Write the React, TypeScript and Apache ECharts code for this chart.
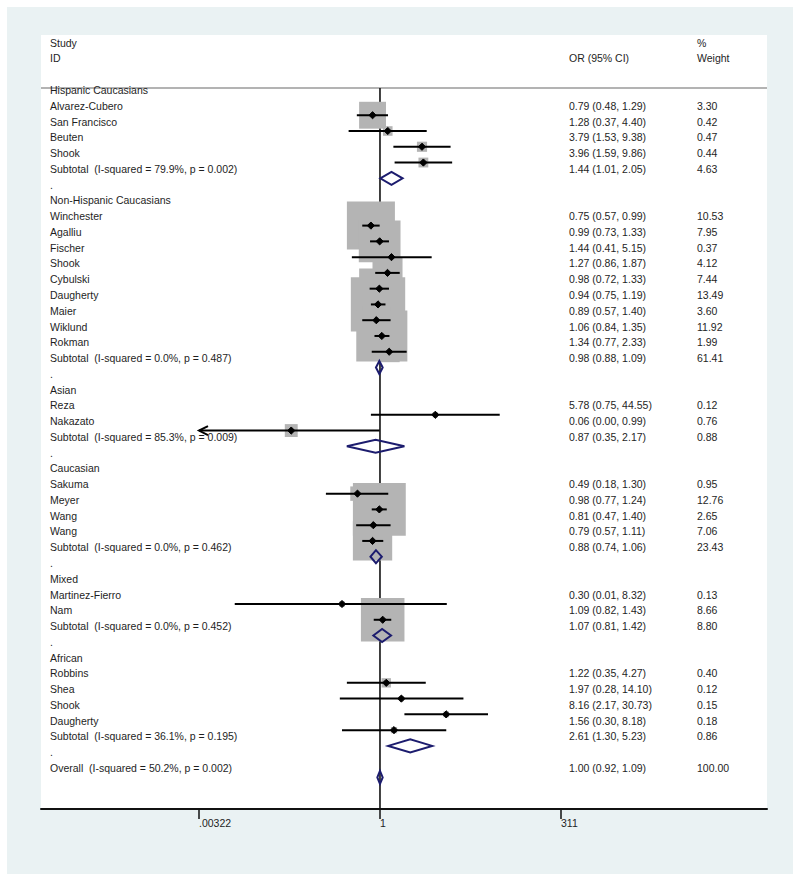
import React, { useEffect, useRef } from "react";
import * as echarts from "echarts";

// ---------- data ----------
const groupNames = [
  "Hispanic Caucasians",
  "Non-Hispanic Caucasians",
  "Asian",
  "Caucasian",
  "Mixed",
  "African",
];
const groupI2 = ["79.9%", "0.0%", "85.3%", "0.0%", "0.0%", "36.1%"];
const groupP = ["0.002", "0.487", "0.009", "0.462", "0.452", "0.195"];
const subOR = [1.44, 0.98, 0.87, 0.88, 1.07, 2.61];
const subLo = [1.01, 0.88, 0.35, 0.74, 0.81, 1.3];
const subHi = [2.05, 1.09, 2.17, 1.06, 1.42, 5.23];
const subWeight = [4.63, 61.41, 0.88, 23.43, 8.8, 0.86];

const studyNames = [
  "Alvarez-Cubero", "San Francisco", "Beuten", "Shook",
  "Winchester", "Agalliu", "Fischer", "Shook", "Cybulski", "Daugherty", "Maier", "Wiklund", "Rokman",
  "Reza", "Nakazato",
  "Sakuma", "Meyer", "Wang", "Wang",
  "Martinez-Fierro", "Nam",
  "Robbins", "Shea", "Shook", "Daugherty",
];
const studyGroup = [0, 0, 0, 0, 1, 1, 1, 1, 1, 1, 1, 1, 1, 2, 2, 3, 3, 3, 3, 4, 4, 5, 5, 5, 5];
const studyOR = [0.79, 1.28, 3.79, 3.96, 0.75, 0.99, 1.44, 1.27, 0.98, 0.94, 0.89, 1.06, 1.34, 5.78, 0.06, 0.49, 0.98, 0.81, 0.79, 0.3, 1.09, 1.22, 1.97, 8.16, 1.56];
const studyLo = [0.48, 0.37, 1.53, 1.59, 0.57, 0.73, 0.41, 0.86, 0.72, 0.75, 0.57, 0.84, 0.77, 0.75, 0.0, 0.18, 0.77, 0.47, 0.57, 0.01, 0.82, 0.35, 0.28, 2.17, 0.3];
const studyHi = [1.29, 4.4, 9.38, 9.86, 0.99, 1.33, 5.15, 1.87, 1.33, 1.19, 1.4, 1.35, 2.33, 44.55, 0.99, 1.3, 1.24, 1.4, 1.11, 8.32, 1.43, 4.27, 14.1, 30.73, 8.18];
const studyWeight = [3.3, 0.42, 0.47, 0.44, 10.53, 7.95, 0.37, 4.12, 7.44, 13.49, 3.6, 11.92, 1.99, 0.12, 0.76, 0.95, 12.76, 2.65, 7.06, 0.13, 8.66, 0.4, 0.12, 0.15, 0.18];

const overallOR = 1.0;
const overallLo = 0.92;
const overallHi = 1.09;
const overallWeight = 100.0;
const overallI2 = "50.2%";
const overallP = "0.002";

const axisTickValues = [0.00322, 1, 311];
const axisTickLabels = [".00322", "1", "311"];

// ---------- layout / style ----------
const GRID_LEFT = 41;
const GRID_TOP = 35;
const GRID_W = 726;
const GRID_H = 774;
const TICK_PX_LEFT = 199;
const TICK_PX_RIGHT = 561;
const ROW0_Y = 90;
const ROW_H = 15.767;
const MARK_OFFSET = 0.6;
const HEADER_LINE_ROW = -0.127;
const COL_LABEL = 50;
const COL_OR = 569;
const COL_W = 697;
const BOX_SCALE = 14.8;
const DIAMOND_H = 6.5;
const TEXT_COLOR = "#1e1e1e";
const NAVY = "#1c1c6e";
const BOX_COLOR = "#b4b4b4";
const FONT = '"Liberation Sans", Arial, Helvetica, sans-serif';
const FONT_SIZE = 10.5;

const lnMinTick = Math.log(axisTickValues[0]);
const lnMaxTick = Math.log(axisTickValues[axisTickValues.length - 1]);
const pxPerUnit = (TICK_PX_RIGHT - TICK_PX_LEFT) / (lnMaxTick - lnMinTick);
const X_MIN = lnMinTick - (TICK_PX_LEFT - GRID_LEFT) / pxPerUnit;
const X_MAX = lnMaxTick + (GRID_LEFT + GRID_W - TICK_PX_RIGHT) / pxPerUnit;
const Y_MIN = (GRID_TOP - ROW0_Y) / ROW_H;
const Y_MAX = (GRID_TOP + GRID_H - ROW0_Y) / ROW_H;

const fmt = (v: number) => v.toFixed(2);
const ciText = (o: number, l: number, h: number) => `${fmt(o)} (${fmt(l)}, ${fmt(h)})`;

type TextItem = { x: number; row: number; text: string };
type CI = { or: number; lo: number; hi: number; w: number; row: number };

function buildRows() {
  const texts: TextItem[] = [
    { x: COL_LABEL, row: -3, text: "Study" },
    { x: COL_LABEL, row: -2, text: "ID" },
    { x: COL_OR, row: -2, text: "OR (95% CI)" },
    { x: COL_W, row: -3, text: "%" },
    { x: COL_W, row: -2, text: "Weight" },
  ];
  const studies: CI[] = [];
  const diamonds: CI[] = [];
  let r = 0;
  groupNames.forEach((g, gi) => {
    texts.push({ x: COL_LABEL, row: r, text: g });
    r++;
    studyNames.forEach((name, si) => {
      if (studyGroup[si] !== gi) return;
      texts.push({ x: COL_LABEL, row: r, text: name });
      texts.push({ x: COL_OR, row: r, text: ciText(studyOR[si], studyLo[si], studyHi[si]) });
      texts.push({ x: COL_W, row: r, text: fmt(studyWeight[si]) });
      studies.push({ or: studyOR[si], lo: studyLo[si], hi: studyHi[si], w: studyWeight[si], row: r });
      r++;
    });
    texts.push({ x: COL_LABEL, row: r, text: `Subtotal  (I-squared = ${groupI2[gi]}, p = ${groupP[gi]})` });
    texts.push({ x: COL_OR, row: r, text: ciText(subOR[gi], subLo[gi], subHi[gi]) });
    texts.push({ x: COL_W, row: r, text: fmt(subWeight[gi]) });
    diamonds.push({ or: subOR[gi], lo: subLo[gi], hi: subHi[gi], w: subWeight[gi], row: r });
    r++;
    texts.push({ x: COL_LABEL, row: r, text: "." });
    r++;
  });
  texts.push({ x: COL_LABEL, row: r, text: `Overall  (I-squared = ${overallI2}, p = ${overallP})` });
  texts.push({ x: COL_OR, row: r, text: ciText(overallOR, overallLo, overallHi) });
  texts.push({ x: COL_W, row: r, text: fmt(overallWeight) });
  diamonds.push({ or: overallOR, lo: overallLo, hi: overallHi, w: overallWeight, row: r });
  return { texts, studies, diamonds };
}

const ln = (v: number) => (v > 0 ? Math.log(v) : -Infinity);
const clampLn = (v: number) => Math.min(lnMaxTick, Math.max(lnMinTick, ln(v)));

export default function App() {
  const ref = useRef<HTMLDivElement>(null);
  useEffect(() => {
    if (!ref.current) return;
    const chart = echarts.init(ref.current, null, { renderer: "svg" });
    const { texts, studies, diamonds } = buildRows();
    const tickLn = axisTickValues.map((v) => Math.log(v));

    const option: any = {
      animation: false,
      backgroundColor: "#ffffff",
      graphic: [
        { type: "rect", z: -10, shape: { x: 7, y: 7, width: 786, height: 867 }, style: { fill: "#eaf2f3" }, silent: true },
        { type: "rect", z: -9, shape: { x: GRID_LEFT, y: GRID_TOP, width: GRID_W, height: GRID_H }, style: { fill: "#ffffff" }, silent: true },
      ],
      grid: { left: GRID_LEFT, top: GRID_TOP, width: GRID_W, height: GRID_H, containLabel: false },
      xAxis: {
        type: "value",
        min: X_MIN,
        max: X_MAX,
        splitLine: { show: false },
        axisLine: { show: true, onZero: false, lineStyle: { color: "#111111", width: 2 } },
        axisTick: { show: true, customValues: tickLn, length: 10, lineStyle: { color: "#111111", width: 1.5 } },
        axisLabel: {
          show: true,
          customValues: tickLn,
          margin: 8,
          align: "left",
          color: TEXT_COLOR,
          fontSize: FONT_SIZE,
          fontFamily: FONT,
          formatter: (v: number) => {
            const i = tickLn.findIndex((t) => Math.abs(t - v) < 1e-6);
            return i >= 0 ? axisTickLabels[i] : "";
          },
        },
      },
      yAxis: { type: "value", inverse: true, min: Y_MIN, max: Y_MAX, show: false },
      series: [
        {
          type: "custom",
          name: "header line",
          z: 1,
          silent: true,
          data: [[X_MIN, HEADER_LINE_ROW]],
          renderItem: (_p: any, api: any) => {
            const a = api.coord([X_MIN, HEADER_LINE_ROW]);
            const b = api.coord([X_MAX, HEADER_LINE_ROW]);
            return { type: "line", shape: { x1: a[0], y1: a[1], x2: b[0], y2: b[1] }, style: { stroke: "#9a9a9a", lineWidth: 1.6 } };
          },
        },
        {
          type: "custom",
          name: "null line",
          z: 1,
          silent: true,
          data: [[0, HEADER_LINE_ROW]],
          renderItem: (_p: any, api: any) => {
            const a = api.coord([0, HEADER_LINE_ROW]);
            const b = api.coord([0, Y_MAX]);
            return { type: "line", shape: { x1: a[0], y1: a[1], x2: b[0], y2: b[1] }, style: { stroke: "#111111", lineWidth: 1.6 } };
          },
        },
        {
          type: "custom",
          name: "weights",
          z: 2,
          silent: true,
          data: studies.map((s) => [Math.log(s.or), s.row + MARK_OFFSET, s.w]),
          renderItem: (_p: any, api: any) => {
            const c = api.coord([api.value(0), api.value(1)]);
            const side = BOX_SCALE * Math.sqrt(api.value(2));
            return { type: "rect", shape: { x: c[0] - side / 2, y: c[1] - side / 2, width: side, height: side }, style: { fill: BOX_COLOR } };
          },
        },
        {
          type: "custom",
          name: "studies",
          z: 3,
          silent: true,
          data: studies.map((s) => [clampLn(s.lo), clampLn(s.hi), s.row + MARK_OFFSET, Math.log(s.or), ln(s.lo) < lnMinTick ? 1 : 0, ln(s.hi) > lnMaxTick ? 1 : 0]),
          renderItem: (_p: any, api: any) => {
            const y = api.value(2);
            const a = api.coord([api.value(0), y]);
            const b = api.coord([api.value(1), y]);
            const c = api.coord([api.value(3), y]);
            const children: any[] = [
              { type: "line", shape: { x1: a[0], y1: a[1], x2: b[0], y2: b[1] }, style: { stroke: "#000000", lineWidth: 2 } },
            ];
            if (api.value(4) === 1) {
              children.push({ type: "polyline", shape: { points: [[a[0] + 9, a[1] - 4.5], [a[0], a[1]], [a[0] + 9, a[1] + 4.5]] }, style: { stroke: "#000000", lineWidth: 2, fill: "none" } });
            }
            if (api.value(5) === 1) {
              children.push({ type: "polyline", shape: { points: [[b[0] - 9, b[1] - 4.5], [b[0], b[1]], [b[0] - 9, b[1] + 4.5]] }, style: { stroke: "#000000", lineWidth: 2, fill: "none" } });
            }
            const d = 3.6;
            children.push({ type: "polygon", shape: { points: [[c[0] - d, c[1]], [c[0], c[1] - d], [c[0] + d, c[1]], [c[0], c[1] + d]] }, style: { fill: "#000000", stroke: "#000000", lineWidth: 1 } });
            return { type: "group", children };
          },
        },
        {
          type: "custom",
          name: "pooled",
          z: 4,
          silent: true,
          data: diamonds.map((s) => [Math.log(s.or), Math.log(s.lo), Math.log(s.hi), s.row + MARK_OFFSET]),
          renderItem: (_p: any, api: any) => {
            const y = api.value(3);
            const c = api.coord([api.value(0), y]);
            const l = api.coord([api.value(1), y]);
            const h = api.coord([api.value(2), y]);
            return {
              type: "polygon",
              shape: { points: [[l[0], l[1]], [c[0], c[1] - DIAMOND_H], [h[0], h[1]], [c[0], c[1] + DIAMOND_H]] },
              style: { fill: "rgba(0,0,0,0)", stroke: NAVY, lineWidth: 2 },
            };
          },
        },
        {
          type: "custom",
          name: "texts",
          z: 5,
          silent: true,
          data: texts.map((t) => [0, t.row]),
          renderItem: (p: any, api: any) => {
            const t = texts[p.dataIndex];
            const c = api.coord([0, t.row]);
            return {
              type: "text",
              x: t.x,
              y: c[1],
              style: { text: t.text, fill: TEXT_COLOR, fontSize: FONT_SIZE, fontFamily: FONT, align: "left", verticalAlign: "middle" },
            };
          },
        },
      ],
    };
    chart.setOption(option);
    return () => chart.dispose();
  }, []);
  return <div ref={ref} style={{ position: "absolute", left: 0, top: 0, width: 800, height: 881 }} />;
}
